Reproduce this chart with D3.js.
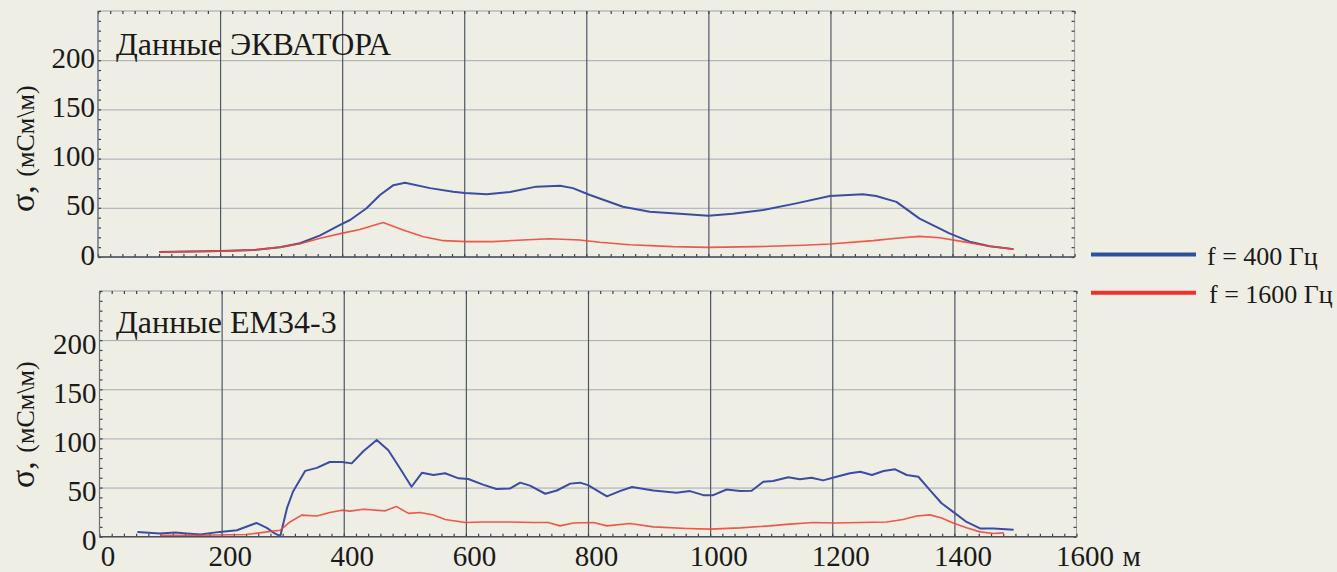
<!DOCTYPE html>
<html><head><meta charset="utf-8">
<script src="https://cdn.jsdelivr.net/npm/d3@7"></script>
<style>
html,body{margin:0;padding:0;background:#efeee4;}
svg{display:block;}
svg text{font-family:'Liberation Serif','Times New Roman','DejaVu Serif',serif !important;fill:#1a1a1a;}
</style></head>
<body>
<svg id="c" width="1337" height="572" font-family="Liberation Serif, serif"></svg>
<script>
// ---- data ----
const panelTitles = ["Данные ЭКВАТОРА", "Данные EM34-3"];
const yTicks = [0, 50, 100, 150, 200];
const xTicks = [0, 200, 400, 600, 800, 1000, 1200, 1400, 1600];
const legendLabels = ["f = 400 Гц", "f = 1600 Гц"];
const xUnit = "м";
const yTitleMain = "σ, ";
const yTitleUnit = "(мСм\\м)";

// Top panel (ЭКВАТОР), f = 400 Hz
const ekv400X = [100,200,254,298,331,364,399,413,440,462,484,503,544,582,601,637,675,718,757,778,806,860,904,959,1000,1040,1090,1144,1199,1253,1275,1308,1346,1395,1428,1461,1500];
const ekv400Y = [5,6,7,10,14,22,33.5,37.6,49.5,63,73,75.5,70,66.4,65,63.7,66,71.5,72.5,70,63,51,46,43.7,42,44,47.8,54.5,62,63.7,62,56,39,24,15.6,11,8];
// Top panel, f = 1600 Hz
const ekv1600X = [100,200,254,298,331,364,399,429,467,500,533,566,604,647,696,740,789,822,871,942,1000,1079,1155,1199,1270,1308,1346,1379,1417,1461,1500];
const ekv1600Y = [5,6,7,10,13.4,19,24,28,35,27.4,20.6,16.6,15.6,15.6,17.3,18.6,17.3,15,12.5,10.5,9.8,10.5,11.9,13.2,16.6,19,21,19.6,15.6,11,8];
// Bottom panel (EM34-3), f = 400 Hz
const em400X = [62,99,124,143,165,197,225,257,274,287,296,307,317,337,356,377,397,413,432,454,473,492,511,528,547,566,588,604,628,650,672,689,705,730,749,771,787,800,831,852,872,907,945,967,989,1005,1027,1049,1068,1087,1103,1128,1147,1166,1185,1207,1229,1246,1265,1284,1303,1322,1341,1360,1379,1398,1420,1442,1464,1497];
const em400Y = [4.9,3.3,4.3,3.3,2.2,4.9,6.6,14,9,3.3,0.5,29,46,67,70,76,76,74.6,87,98.5,88,69.6,50.8,65,62.8,64.5,59.4,58.7,53,48.5,49,55,52,43.7,47,54,55,52.5,41,46.4,50.5,47,44.7,46.4,42.3,42.3,48,46.4,46.7,56,56.6,60.4,58.4,60,57.3,61,64.5,66,62.8,66.8,68.6,62.8,61,47.4,34,25.3,15,8.4,8.4,7];
// Bottom panel, f = 1600 Hz
const em1600X = [99,165,241,274,296,312,331,356,377,397,410,432,468,486,506,525,547,566,599,628,672,710,735,754,776,809,831,869,907,962,1000,1049,1098,1125,1169,1202,1246,1289,1316,1338,1360,1379,1398,1420,1442,1464,1481];
const em1600Y = [1.5,1.5,2.2,4.9,6.6,15,22,21,24.7,27,26,28,26.3,30.8,23.7,24.7,22,17.5,14.5,15,15,14.5,14.5,11,14,14.5,11,13.5,10,8.4,7.7,9,11,12.5,14.5,14,14.5,15,17.5,21,22.2,19,14,9,4.9,3.3,3.9];

// ---- drawing ----
const FONT = "Liberation Serif, Times New Roman, DejaVu Serif, serif";
const svg = d3.select("#c");
const BLUE = "#3a4ca3", RED = "#ee4636";
const zip = (xs, ys) => xs.map((x, i) => [x, ys[i]]);

const panels = [
  {x0: 98, x1: 1074.6, yBot: 257, yTop: 11, title: panelTitles[0], titleY: 55, labelDy: 7, axisTitleY: 212,
   s400: zip(ekv400X, ekv400Y), s1600: zip(ekv1600X, ekv1600Y), xLabels: false},
  {x0: 99.5, x1: 1076.5, yBot: 536.7, yTop: 291, title: panelTitles[1], titleY: 333, labelDy: 13, axisTitleY: 488,
   s400: zip(em400X, em400Y), s1600: zip(em1600X, em1600Y), xLabels: true}
];

panels.forEach(p => {
  const x = d3.scaleLinear().domain([0, 1600]).range([p.x0, p.x1]);
  const y = d3.scaleLinear().domain([0, 250]).range([p.yBot, p.yTop]);
  const g = svg.append("g").attr("font-family", FONT);
  const W = p.x1 - p.x0, H = p.yBot - p.yTop;

  // horizontal grid
  const hg = g.append("g").attr("transform", `translate(${p.x0},0)`)
    .call(d3.axisLeft(y).tickValues([50,100,150,200]).tickSize(-W).tickFormat(""));
  hg.select(".domain").remove();
  hg.selectAll("line").attr("stroke", "#8c93a6").attr("stroke-width", 1).attr("opacity", 0.75);

  // vertical grid
  const vg = g.append("g").attr("transform", `translate(0,${p.yBot})`)
    .call(d3.axisBottom(x).tickValues([200,400,600,800,1000,1200,1400]).tickSize(-H).tickFormat(""));
  vg.select(".domain").remove();
  vg.selectAll("line").attr("stroke", "#4f5668").attr("stroke-width", 1.2);

  // frame
  g.append("rect").attr("x", p.x0).attr("y", p.yTop).attr("width", W).attr("height", H)
    .attr("fill", "none").attr("stroke", "#9aa0ab").attr("stroke-width", 1);

  // minor ticks (inward)
  const minorX = d3.range(0, 1601, 20), minorY = d3.range(0, 251, 10);
  const styleTicks = sel => { sel.select(".domain").remove(); sel.selectAll("text").remove();
    sel.selectAll("line").attr("stroke", "#3a3f4a").attr("stroke-width", 1.2); };
  g.append("g").attr("transform", `translate(0,${p.yBot})`)
    .call(d3.axisBottom(x).tickValues(minorX).tickSize(-3)).call(styleTicks);
  g.append("g").attr("transform", `translate(0,${p.yTop})`)
    .call(d3.axisTop(x).tickValues(minorX).tickSize(-3)).call(styleTicks);
  g.append("g").attr("transform", `translate(${p.x0},0)`)
    .call(d3.axisLeft(y).tickValues(minorY).tickSize(-3)).call(styleTicks);
  g.append("g").attr("transform", `translate(${p.x1},0)`)
    .call(d3.axisRight(y).tickValues(minorY).tickSize(-3)).call(styleTicks);

  // bottom / left axis lines (darker)
  g.append("line").attr("x1", p.x0).attr("x2", p.x1).attr("y1", p.yBot).attr("y2", p.yBot)
    .attr("stroke", "#4a4f5a").attr("stroke-width", 1.4);
  g.append("line").attr("x1", p.x0).attr("x2", p.x0).attr("y1", p.yTop).attr("y2", p.yBot)
    .attr("stroke", "#6a707c").attr("stroke-width", 1.2);

  // y tick labels
  const yl = g.append("g").attr("transform", `translate(${p.x0 - 3},0)`)
    .call(d3.axisLeft(y).tickValues(yTicks).tickSize(0).tickPadding(0).tickFormat(d3.format("d")));
  yl.attr("font-family", FONT).attr("font-size", 29);
  yl.select(".domain").remove();
  yl.selectAll("text").attr("font-size", 29).attr("dy", null)
    .attr("transform", `translate(0,${p.labelDy})`).attr("fill", "#1a1a1a")
    .attr("font-family", FONT);

  // x tick labels
  if (p.xLabels) {
    const xl = g.append("g").attr("transform", `translate(8,${p.yBot})`)
      .call(d3.axisBottom(x).tickValues(xTicks).tickSize(0).tickPadding(0).tickFormat(d3.format("d")));
    xl.attr("font-family", FONT).attr("font-size", 29);
    xl.select(".domain").remove();
    xl.selectAll("text").attr("font-size", 29).attr("dy", null).attr("y", 29.5).attr("fill", "#1a1a1a")
      .attr("font-family", FONT);
    g.append("text").attr("x", x(1600) + 46).attr("y", p.yBot + 29.5).attr("font-size", 29)
      .attr("font-family", FONT).text(xUnit);
  }

  // y axis title
  const t = g.append("text").attr("font-family", FONT)
    .attr("transform", `translate(34,${p.axisTitleY}) rotate(-90)`);
  t.append("tspan").attr("font-size", 34).text(yTitleMain);
  t.append("tspan").attr("font-size", 26).text(yTitleUnit);

  // panel title
  g.append("text").attr("x", 116).attr("y", p.titleY).attr("font-size", 32)
    .attr("font-family", FONT).text(p.title);

  // series
  const line = d3.line().x(d => x(d[0])).y(d => y(d[1]));
  g.append("path").datum(p.s400).attr("d", line).attr("fill", "none").attr("stroke", BLUE)
    .attr("stroke-width", 2).attr("stroke-linejoin", "round");
  g.append("path").datum(p.s1600).attr("d", line).attr("fill", "none").attr("stroke", RED)
    .attr("stroke-width", 1.6).attr("stroke-linejoin", "round").attr("opacity", 0.9);
});

// legend
const lg = svg.append("g").attr("font-family", FONT);
const legendColors = ["#2a52a2", "#f0302c"];
const legendY = d3.scaleOrdinal().domain(legendLabels).range([254.5, 292.7]);
legendLabels.forEach((lab, i) => {
  lg.append("line").attr("x1", 1091).attr("x2", 1196).attr("y1", legendY(lab)).attr("y2", legendY(lab))
    .attr("stroke", legendColors[i]).attr("stroke-width", 4);
  lg.append("text").attr("x", 1207 + i * 2).attr("y", legendY(lab) + 10).attr("font-size", 26)
    .attr("font-family", FONT).text(lab);
});
</script>
</body></html>
